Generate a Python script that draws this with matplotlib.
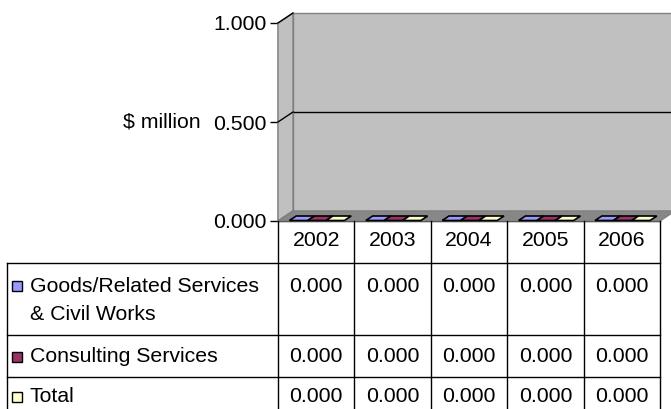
import matplotlib.pyplot as plt
from matplotlib.patches import Polygon, Rectangle
from matplotlib.transforms import ScaledTranslation, blended_transform_factory

plt.rcParams['font.family'] = ['Liberation Sans', 'DejaVu Sans']

years = ["2002", "2003", "2004", "2005", "2006"]
series = ["Goods/Related Services\n& Civil Works", "Consulting Services", "Total"]
goods = [0.0, 0.0, 0.0, 0.0, 0.0]
consulting = [0.0, 0.0, 0.0, 0.0, 0.0]
total = [0.0, 0.0, 0.0, 0.0, 0.0]
colors = ["#9999FF", "#993366", "#FFFFCC"]
yticks = [0.0, 0.5, 1.0]

W, H = 671, 409
fig = plt.figure(figsize=(W / 100, H / 100), dpi=100)

# front plane of the 3D box (pixels: x 278..660, y 221..23)
ax = fig.add_axes([278 / W, (H - 221) / H, 382 / W, 198 / H])
ax.set_xlim(-0.5, len(years) - 0.5)
ax.set_ylim(0, 1)
ax.patch.set_visible(False)
for s in ("top", "right"):
    ax.spines[s].set_visible(False)
ax.spines["left"].set_color("black")
ax.spines["bottom"].set_color("black")
ax.spines["left"].set_linewidth(1)
ax.spines["bottom"].set_linewidth(1)
ax.set_xticks([])
ax.set_yticks(yticks)
ax.set_yticklabels([f"{t:.3f}" for t in yticks], fontsize=15.3)
ax.tick_params(axis="y", length=6, width=1, pad=2)
ax.set_ylabel("$ million", rotation=0, fontsize=15.3, ha="right", va="center")
ax.yaxis.set_label_coords(-0.203, 0.5)

DX, DY = 15, 10  # depth in pixels
back = ax.transAxes + ScaledTranslation(DX / 100, DY / 100, fig.dpi_scale_trans)

# back wall
ax.add_patch(Rectangle((0, 0), 1, 1, transform=back, facecolor="#C0C0C0",
                       edgecolor="#808080", lw=1, clip_on=False, zorder=0))

# left wall and floor in display coords
fl = ax.transAxes.transform([(0, 0), (0, 1), (1, 0)])
bl = back.transform([(0, 0), (0, 1), (1, 0)])
left_wall = Polygon([fl[0], fl[1], bl[1], bl[0]], closed=True, transform=None,
                    facecolor="#C0C0C0", edgecolor="#808080", lw=1, zorder=1)
floor = Polygon([fl[0], fl[2], bl[2], bl[0]], closed=True, transform=None,
                facecolor="#878787", edgecolor="#808080", lw=1, zorder=1)
fig.add_artist(left_wall)
fig.add_artist(floor)

# gridlines: on back wall and along left wall
for t in yticks[1:-1]:
    ax.plot([0, 1], [t, t], transform=back, color="black", lw=1, clip_on=False, zorder=2)
for t in yticks:
    p0 = ax.transAxes.transform([(0, t)])[0]
    p1 = back.transform([(0, t)])[0]
    fig.add_artist(plt.Line2D([p0[0], p1[0]], [p0[1], p1[1]], transform=None,
                              color="black" if t > 0 else "#808080", lw=1, zorder=3))

# bars (3D boxes; all values are zero so only the top face shows)
vals = [goods, consulting, total]
group = 0.72
bw = group / len(vals)
f0, f1 = 0.05, 0.5
for k, (v, c) in enumerate(zip(vals, colors)):
    for i, val in enumerate(v):
        x0 = i - group / 2 + k * bw
        x1 = x0 + bw
        a, b = ax.transData.transform([(x0, val), (x1, val)])
        z = ax.transData.transform([(x0, 0)])[0]
        o0 = (f0 * DX, f0 * DY)
        o1 = (f1 * DX, f1 * DY)
        top = [(a[0] + o0[0], a[1] + o0[1]), (b[0] + o0[0], b[1] + o0[1]),
               (b[0] + o1[0], b[1] + o1[1]), (a[0] + o1[0], a[1] + o1[1])]
        fig.add_artist(Polygon(top, closed=True, transform=None, facecolor=c,
                               edgecolor="black", lw=1.2, zorder=4))
        if val > 0:
            front = [(a[0] + o0[0], z[1] + o0[1]), (b[0] + o0[0], z[1] + o0[1]),
                     (b[0] + o0[0], b[1] + o0[1]), (a[0] + o0[0], a[1] + o0[1])]
            fig.add_artist(Polygon(front, closed=True, transform=None, facecolor=c,
                                   edgecolor="black", lw=1, zorder=4))

# data table
tab = fig.add_axes([0, 0, 1, 1], zorder=5)
tab.set_xlim(0, W)
tab.set_ylim(H, 0)
tab.axis("off")
colx = blended_transform_factory(ax.transData, tab.transData)

row_lines = [263, 335, 377]
row_text = [[286, 315], [357], [397]]
left_x = 7
right_px = ax.transData.transform([(len(years) - 0.5, 0)])[0][0]

for y in row_lines:
    tab.plot([left_x, right_px], [y, y], color="black", lw=1)
tab.plot([left_x, left_x], [row_lines[0], H + 2], color="black", lw=1)
for i in range(len(years) + 1):
    tab.plot([i - 0.5, i - 0.5], [221, H + 2], transform=colx, color="black", lw=1,
             clip_on=False)

for i, yr in enumerate(years):
    tab.text(i, 240, yr, transform=colx, ha="center", va="center", fontsize=15.3)

for r, (name, v, c) in enumerate(zip(series, vals, colors)):
    lines = name.split("\n")
    ys = row_text[r]
    tab.add_patch(Rectangle((12, ys[0] - 5), 10, 10, facecolor=c, edgecolor="black", lw=1))
    for line, y in zip(lines, ys):
        tab.text(30, y, line, ha="left", va="center", fontsize=15.3)
    for i, val in enumerate(v):
        tab.text(i, ys[0], f"{val:.3f}", transform=colx, ha="center", va="center",
                 fontsize=15.3)

fig.savefig("out.png", dpi=100)
